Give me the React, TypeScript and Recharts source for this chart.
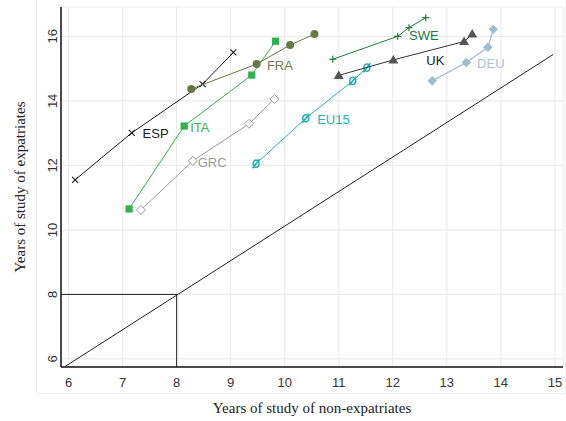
import React from 'react';
import { ComposedChart, Scatter, XAxis, YAxis, CartesianGrid, ReferenceLine } from 'recharts';

// ---- data ----
const espX = [6.12, 7.17, 8.48, 9.05];
const espY = [11.55, 13.01, 14.52, 15.5];
const fraX = [8.27, 9.48, 10.1, 10.55];
const fraY = [14.37, 15.14, 15.73, 16.07];
const itaX = [7.12, 8.14, 9.39, 9.83];
const itaY = [10.65, 13.22, 14.8, 15.85];
const grcX = [7.34, 8.3, 9.34, 9.81];
const grcY = [10.62, 12.14, 13.29, 14.06];
const eu15X = [9.47, 10.39, 11.26, 11.52];
const eu15Y = [12.05, 13.46, 14.62, 15.03];
const sweX = [10.89, 12.09, 12.3, 12.61];
const sweY = [15.29, 16.0, 16.27, 16.58];
const ukX = [11.0, 12.01, 13.32, 13.47];
const ukY = [14.79, 15.27, 15.84, 16.07];
const deuX = [12.73, 13.36, 13.76, 13.86];
const deuY = [14.62, 15.19, 15.66, 16.22];

const labelNames = ['ESP', 'ITA', 'GRC', 'FRA', 'EU15', 'SWE', 'UK', 'DEU'];
const labelX = [7.37, 8.25, 8.39, 9.67, 10.6, 12.3, 12.62, 13.56];
const labelY = [13.0, 13.19, 12.1, 15.11, 13.44, 16.04, 15.27, 15.16];
const labelColors = ['#222222', '#3db54f', '#9a9a9a', '#6b7a47', '#1fb1b6', '#1d7b3c', '#222222', '#a8c4d4'];

const xTicks = [6, 7, 8, 9, 10, 11, 12, 13, 14, 15];
const yTicks = [6, 8, 10, 12, 14, 16];
const xDomain = [5.86, 15.15];
const yDomain = [5.75, 16.91];
const diagStart = { x: 5.94, y: 5.77 };
const diagEnd = { x: 14.97, y: 15.44 };
const refPoint = 8;

const zip = (xs: number[], ys: number[]) => xs.map((x, i) => ({ x, y: ys[i] }));
const labelData = labelNames.map((n, i) => ({ x: labelX[i], y: labelY[i], name: n, color: labelColors[i] }));

const SANS = '"Liberation Sans", Arial, sans-serif';
const SERIF = '"Liberation Serif", "Times New Roman", serif';

// ---- marker shapes ----
const Cross = (p: any) => {
  const s = 3;
  return (
    <g stroke="#1a1a1a" strokeWidth={1.1}>
      <line x1={p.cx - s} y1={p.cy - s} x2={p.cx + s} y2={p.cy + s} />
      <line x1={p.cx - s} y1={p.cy + s} x2={p.cx + s} y2={p.cy - s} />
    </g>
  );
};
const Plus = (p: any) => {
  const s = 3.5;
  return (
    <g stroke="#1d7b3c" strokeWidth={1.2}>
      <line x1={p.cx - s} y1={p.cy} x2={p.cx + s} y2={p.cy} />
      <line x1={p.cx} y1={p.cy - s} x2={p.cx} y2={p.cy + s} />
    </g>
  );
};
const Dot = (p: any) => <circle cx={p.cx} cy={p.cy} r={4} fill="#687845" />;
const Square = (p: any) => <rect x={p.cx - 3.6} y={p.cy - 3.6} width={7.2} height={7.2} fill="#2fb14c" />;
const HollowDiamond = (p: any) => (
  <polygon
    points={`${p.cx},${p.cy - 4.5} ${p.cx + 4.5},${p.cy} ${p.cx},${p.cy + 4.5} ${p.cx - 4.5},${p.cy}`}
    fill="#ffffff"
    stroke="#9a9a9a"
    strokeWidth={1}
  />
);
const FilledDiamond = (p: any) => (
  <polygon
    points={`${p.cx},${p.cy - 4.8} ${p.cx + 4.8},${p.cy} ${p.cx},${p.cy + 4.8} ${p.cx - 4.8},${p.cy}`}
    fill="#9fbdcd"
  />
);
const Triangle = (p: any) => (
  <polygon points={`${p.cx},${p.cy - 5} ${p.cx + 5},${p.cy + 3.5} ${p.cx - 5},${p.cy + 3.5}`} fill="#555555" />
);
const Slashed = (p: any) => (
  <g stroke="#1fb1b6" strokeWidth={1.6} fill="none">
    <ellipse cx={p.cx} cy={p.cy} rx={3} ry={3.6} />
    <line x1={p.cx - 3.5} y1={p.cy + 4.5} x2={p.cx + 3.5} y2={p.cy - 4.5} />
  </g>
);
const LabelShape = (p: any) => (
  <text
    x={p.cx}
    y={p.cy}
    dy="0.36em"
    textAnchor="start"
    fontFamily={SANS}
    fontSize={13}
    fill={p.payload.color}
  >
    {p.payload.name}
  </text>
);

// ---- ticks & titles ----
const XTick = (p: any) => (
  <text x={p.x} y={p.y} dy="0.71em" textAnchor="middle" fontFamily={SANS} fontSize={13} fill="#333">
    {p.payload.value}
  </text>
);
const YTick = (p: any) => (
  <text
    x={p.x}
    y={p.y}
    transform={`rotate(-90 ${p.x} ${p.y})`}
    textAnchor="middle"
    fontFamily={SANS}
    fontSize={13}
    fill="#333"
  >
    {p.payload.value}
  </text>
);
const XTitle = (p: any) => {
  const vb = p.viewBox || {};
  const cx = vb.x + vb.width / 2;
  return (
    <text x={cx} y={413} textAnchor="middle" fontFamily={SERIF} fontSize={15} fill="#222">
      Years of study of non-expatriates
    </text>
  );
};
const YTitle = (p: any) => {
  const vb = p.viewBox || {};
  const cx = 25;
  const cy = vb.y + vb.height / 2;
  return (
    <text
      x={cx}
      y={cy}
      transform={`rotate(-90 ${cx} ${cy})`}
      textAnchor="middle"
      fontFamily={SERIF}
      fontSize={15}
      fill="#222"
    >
      Years of study of expatriates
    </text>
  );
};

export default function App() {
  return (
    <div style={{ position: 'absolute', left: 0, top: 0, width: 566, height: 421, background: '#fff' }}>
      <div
        style={{
          position: 'absolute',
          left: 36,
          top: -1,
          width: 528,
          height: 393,
          border: '1px solid #f1f1f1',
        }}
      />
      <ComposedChart
        width={566}
        height={421}
        margin={{ top: 7, right: 3, left: 0, bottom: 0 }}
        style={{ position: 'absolute', left: 0, top: 0 }}
      >
        <CartesianGrid stroke="#ebebeb" strokeWidth={1.2} verticalPoints={undefined} />
        <XAxis
          type="number"
          dataKey="x"
          domain={xDomain}
          ticks={xTicks}
          allowDataOverflow
          height={54}
          tickLine={false}
          tickSize={0}
          tickMargin={11}
          tick={<XTick />}
          axisLine={{ stroke: '#111', strokeWidth: 1.5 }}
          label={<XTitle />}
        />
        <YAxis
          type="number"
          dataKey="y"
          domain={yDomain}
          ticks={yTicks}
          allowDataOverflow
          width={61}
          tickLine={false}
          tickSize={0}
          tickMargin={4}
          tick={<YTick />}
          axisLine={{ stroke: '#111', strokeWidth: 1.5 }}
          label={<YTitle />}
        />
        <ReferenceLine segment={[diagStart, diagEnd]} stroke="#222" strokeWidth={1} ifOverflow="visible" />
        <ReferenceLine
          segment={[{ x: xDomain[0], y: refPoint }, { x: refPoint, y: refPoint }]}
          stroke="#222"
          strokeWidth={1}
          ifOverflow="visible"
        />
        <ReferenceLine
          segment={[{ x: refPoint, y: yDomain[0] }, { x: refPoint, y: refPoint }]}
          stroke="#222"
          strokeWidth={1}
          ifOverflow="visible"
        />
        <Scatter data={zip(espX, espY)} line={{ stroke: '#1a1a1a', strokeWidth: 1 }} shape={<Cross />} isAnimationActive={false} />
        <Scatter data={zip(grcX, grcY)} line={{ stroke: '#9a9a9a', strokeWidth: 1 }} shape={<HollowDiamond />} isAnimationActive={false} />
        <Scatter data={zip(itaX, itaY)} line={{ stroke: '#2fb14c', strokeWidth: 1 }} shape={<Square />} isAnimationActive={false} />
        <Scatter data={zip(fraX, fraY)} line={{ stroke: '#687845', strokeWidth: 1 }} shape={<Dot />} isAnimationActive={false} />
        <Scatter data={zip(eu15X, eu15Y)} line={{ stroke: '#1fb1b6', strokeWidth: 1 }} shape={<Slashed />} isAnimationActive={false} />
        <Scatter data={zip(sweX, sweY)} line={{ stroke: '#1d7b3c', strokeWidth: 1 }} shape={<Plus />} isAnimationActive={false} />
        <Scatter data={zip(ukX, ukY)} line={{ stroke: '#333333', strokeWidth: 1 }} shape={<Triangle />} isAnimationActive={false} />
        <Scatter data={zip(deuX, deuY)} line={{ stroke: '#9fbdcd', strokeWidth: 1.2 }} shape={<FilledDiamond />} isAnimationActive={false} />
        <Scatter data={labelData} shape={<LabelShape />} isAnimationActive={false} />
      </ComposedChart>
    </div>
  );
}
